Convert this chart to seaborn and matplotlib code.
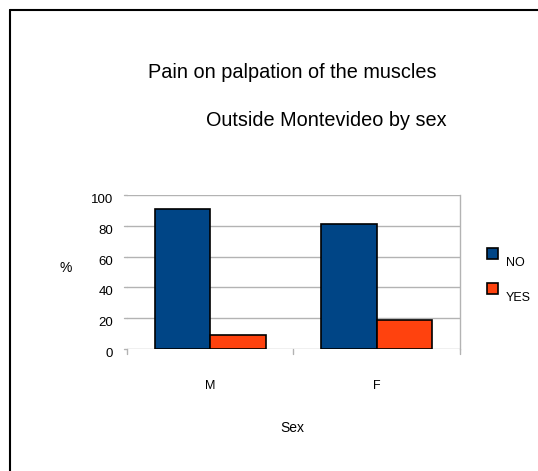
import matplotlib
matplotlib.use("Agg")
import matplotlib.pyplot as plt
from matplotlib.lines import Line2D
from matplotlib.patches import Rectangle
from matplotlib.transforms import ScaledTranslation
import pandas as pd
import seaborn as sns

# data
sexes = ["M", "F"]
answers = ["NO", "YES"]
no_pct = [91, 81]
yes_pct = [9, 19]
y_ticks = [0, 20, 40, 60, 80, 100]
colors = ["#004586", "#ff420e"]

df = pd.DataFrame({
    "sex": sexes * 2,
    "answer": ["NO"] * len(sexes) + ["YES"] * len(sexes),
    "pct": no_pct + yes_pct,
})

sns.set_style("white")
plt.rcParams["font.family"] = ["Liberation Sans", "DejaVu Sans"]
plt.rcParams["text.color"] = "black"

fig = plt.figure(figsize=(5.38, 4.71), dpi=100)
ax = fig.add_axes([0.236, 0.259, 0.619, 0.327])

sns.barplot(data=df, x="sex", y="pct", hue="answer", order=sexes, hue_order=answers,
            palette=colors, saturation=1, edgecolor="black", linewidth=1.2, width=0.667,
            legend=False, ax=ax)

ax.set_xlim(-0.5, 1.5)
ax.set_ylim(0, 100)
ax.set_yticks(y_ticks)
ax.set_yticklabels([])
ax.yaxis.grid(True, color="#b3b3b3", linewidth=1)
ax.set_axisbelow(True)
for side in ["top", "left", "bottom"]:
    ax.spines[side].set_visible(False)
ax.spines["right"].set_color("#b3b3b3")
ax.spines["right"].set_linewidth(1)
ax.tick_params(axis="y", length=0)
ax.set_xticks([])
ax.set_xlabel("")
ax.set_ylabel("")

# y labels sit a little below their gridlines, as in the original
shift = ScaledTranslation(-14 / 100, -5 / 100, fig.dpi_scale_trans)
for yv in y_ticks:
    ax.text(-0.5, yv, str(yv), transform=ax.transData + shift, ha="right", va="center", fontsize=9.5)

# category boundary ticks below the axis and small ticks on the left
for xb in [-0.5, 0.5, 1.5]:
    ax.plot([xb, xb], [0, -3], color="#b3b3b3", lw=1, clip_on=False)
for yv in y_ticks:
    ax.plot([-0.5, -0.515], [yv, yv], color="#b3b3b3", lw=1, clip_on=False)

for i, s in enumerate(sexes):
    ax.text(i, -0.24, s, transform=ax.get_xaxis_transform(), ha="center", va="center", fontsize=9)

fig.text(292 / 538, 1 - 73 / 471, "Pain on palpation of the muscles", ha="center", va="center", fontsize=14.3)
fig.text(326 / 538, 1 - 120 / 471, "Outside Montevideo by sex", ha="center", va="center", fontsize=14.3)
fig.text(66 / 538, 1 - 268 / 471, "%", ha="center", va="center", fontsize=10)
fig.text(292 / 538, 1 - 428 / 471, "Sex", ha="center", va="center", fontsize=10)

# legend
for j, (lab, c) in enumerate(zip(answers, colors)):
    ybox = 254 + 35 * j
    fig.add_artist(Rectangle((487 / 538, 1 - (ybox + 5) / 471), 11 / 538, 11 / 471,
                             facecolor=c, edgecolor="black", linewidth=1.2, transform=fig.transFigure))
    fig.text(506 / 538, 1 - (ybox + 9) / 471, lab, ha="left", va="center", fontsize=9)

# outer frame
fig.add_artist(Line2D([9.5 / 538, 9.5 / 538], [0, 1 - 9.5 / 471], color="black", lw=1.5, transform=fig.transFigure))
fig.add_artist(Line2D([9.5 / 538, 1], [1 - 9.5 / 471, 1 - 9.5 / 471], color="black", lw=1.5, transform=fig.transFigure))

fig.savefig("out.png", dpi=100)
